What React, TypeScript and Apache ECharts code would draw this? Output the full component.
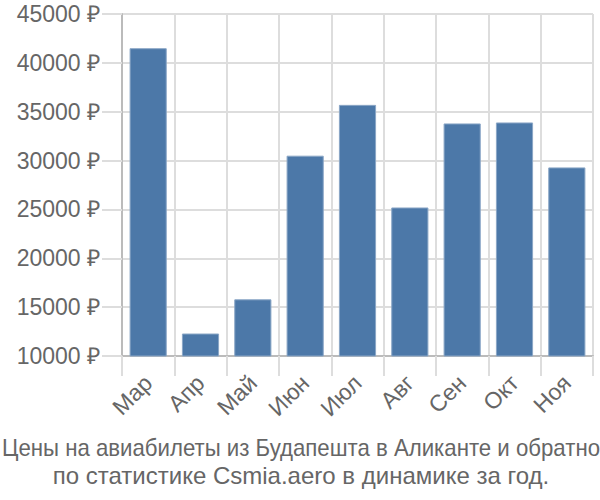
import React, { useEffect, useRef } from "react";
import * as echarts from "echarts";

const months = ["Мар", "Апр", "Май", "Июн", "Июл", "Авг", "Сен", "Окт", "Ноя"];
const prices = [41500, 12300, 15800, 30500, 35700, 25200, 33800, 33900, 29300];
const titleLines = [
  "Цены на авиабилеты из Будапешта в Аликанте и обратно",
  "по статистике Csmia.aero в динамике за год.",
];

export default function App() {
  const ref = useRef<HTMLDivElement>(null);
  useEffect(() => {
    if (!ref.current) return;
    const chart = echarts.init(ref.current, null, { renderer: "svg" });
    const font = "Liberation Sans";
    const titleStyle = {
      fontFamily: font,
      fontSize: 24,
      fill: "#666",
      align: "center",
      verticalAlign: "middle",
    };
    chart.setOption({
      animation: false,
      graphic: [
        {
          type: "text",
          x: 301,
          y: 448,
          scaleX: 0.926,
          style: { ...titleStyle, text: titleLines[0] },
        },
        {
          type: "text",
          x: 301,
          y: 475,
          style: { ...titleStyle, text: titleLines[1] },
        },
      ],
      grid: { left: 122, right: 7, top: 14, bottom: 144, containLabel: false },
      xAxis: {
        type: "category",
        data: months,
        axisLine: { lineStyle: { color: "#bbb", width: 2 } },
        axisTick: { show: true, length: 20, lineStyle: { color: "#ddd", width: 2 } },
        splitLine: { show: true, lineStyle: { color: "#ddd", width: 2 } },
        axisLabel: {
          rotate: 45,
          fontFamily: font,
          fontSize: 23,
          color: "#666",
          margin: 23,
          interval: 0,
        },
      },
      yAxis: {
        type: "value",
        min: 10000,
        max: 45000,
        interval: 5000,
        axisLine: { show: true, lineStyle: { color: "#bbb", width: 2 } },
        axisTick: { show: true, length: 20, lineStyle: { color: "#ddd", width: 2 } },
        splitLine: { show: true, lineStyle: { color: "#ddd", width: 2 } },
        axisLabel: {
          fontFamily: font,
          fontSize: 23,
          color: "#666",
          margin: 22,
          formatter: (v: number) => `${v} ₽`,
        },
      },
      series: [
        {
          type: "bar",
          data: prices,
          barCategoryGap: "29%",
          itemStyle: { color: "#4c78a8", borderColor: "#8aa6c6", borderWidth: 1 },
        },
      ],
    });
    return () => chart.dispose();
  }, []);
  return (
    <div
      ref={ref}
      style={{ position: "absolute", left: 0, top: 0, width: 600, height: 500 }}
    />
  );
}
